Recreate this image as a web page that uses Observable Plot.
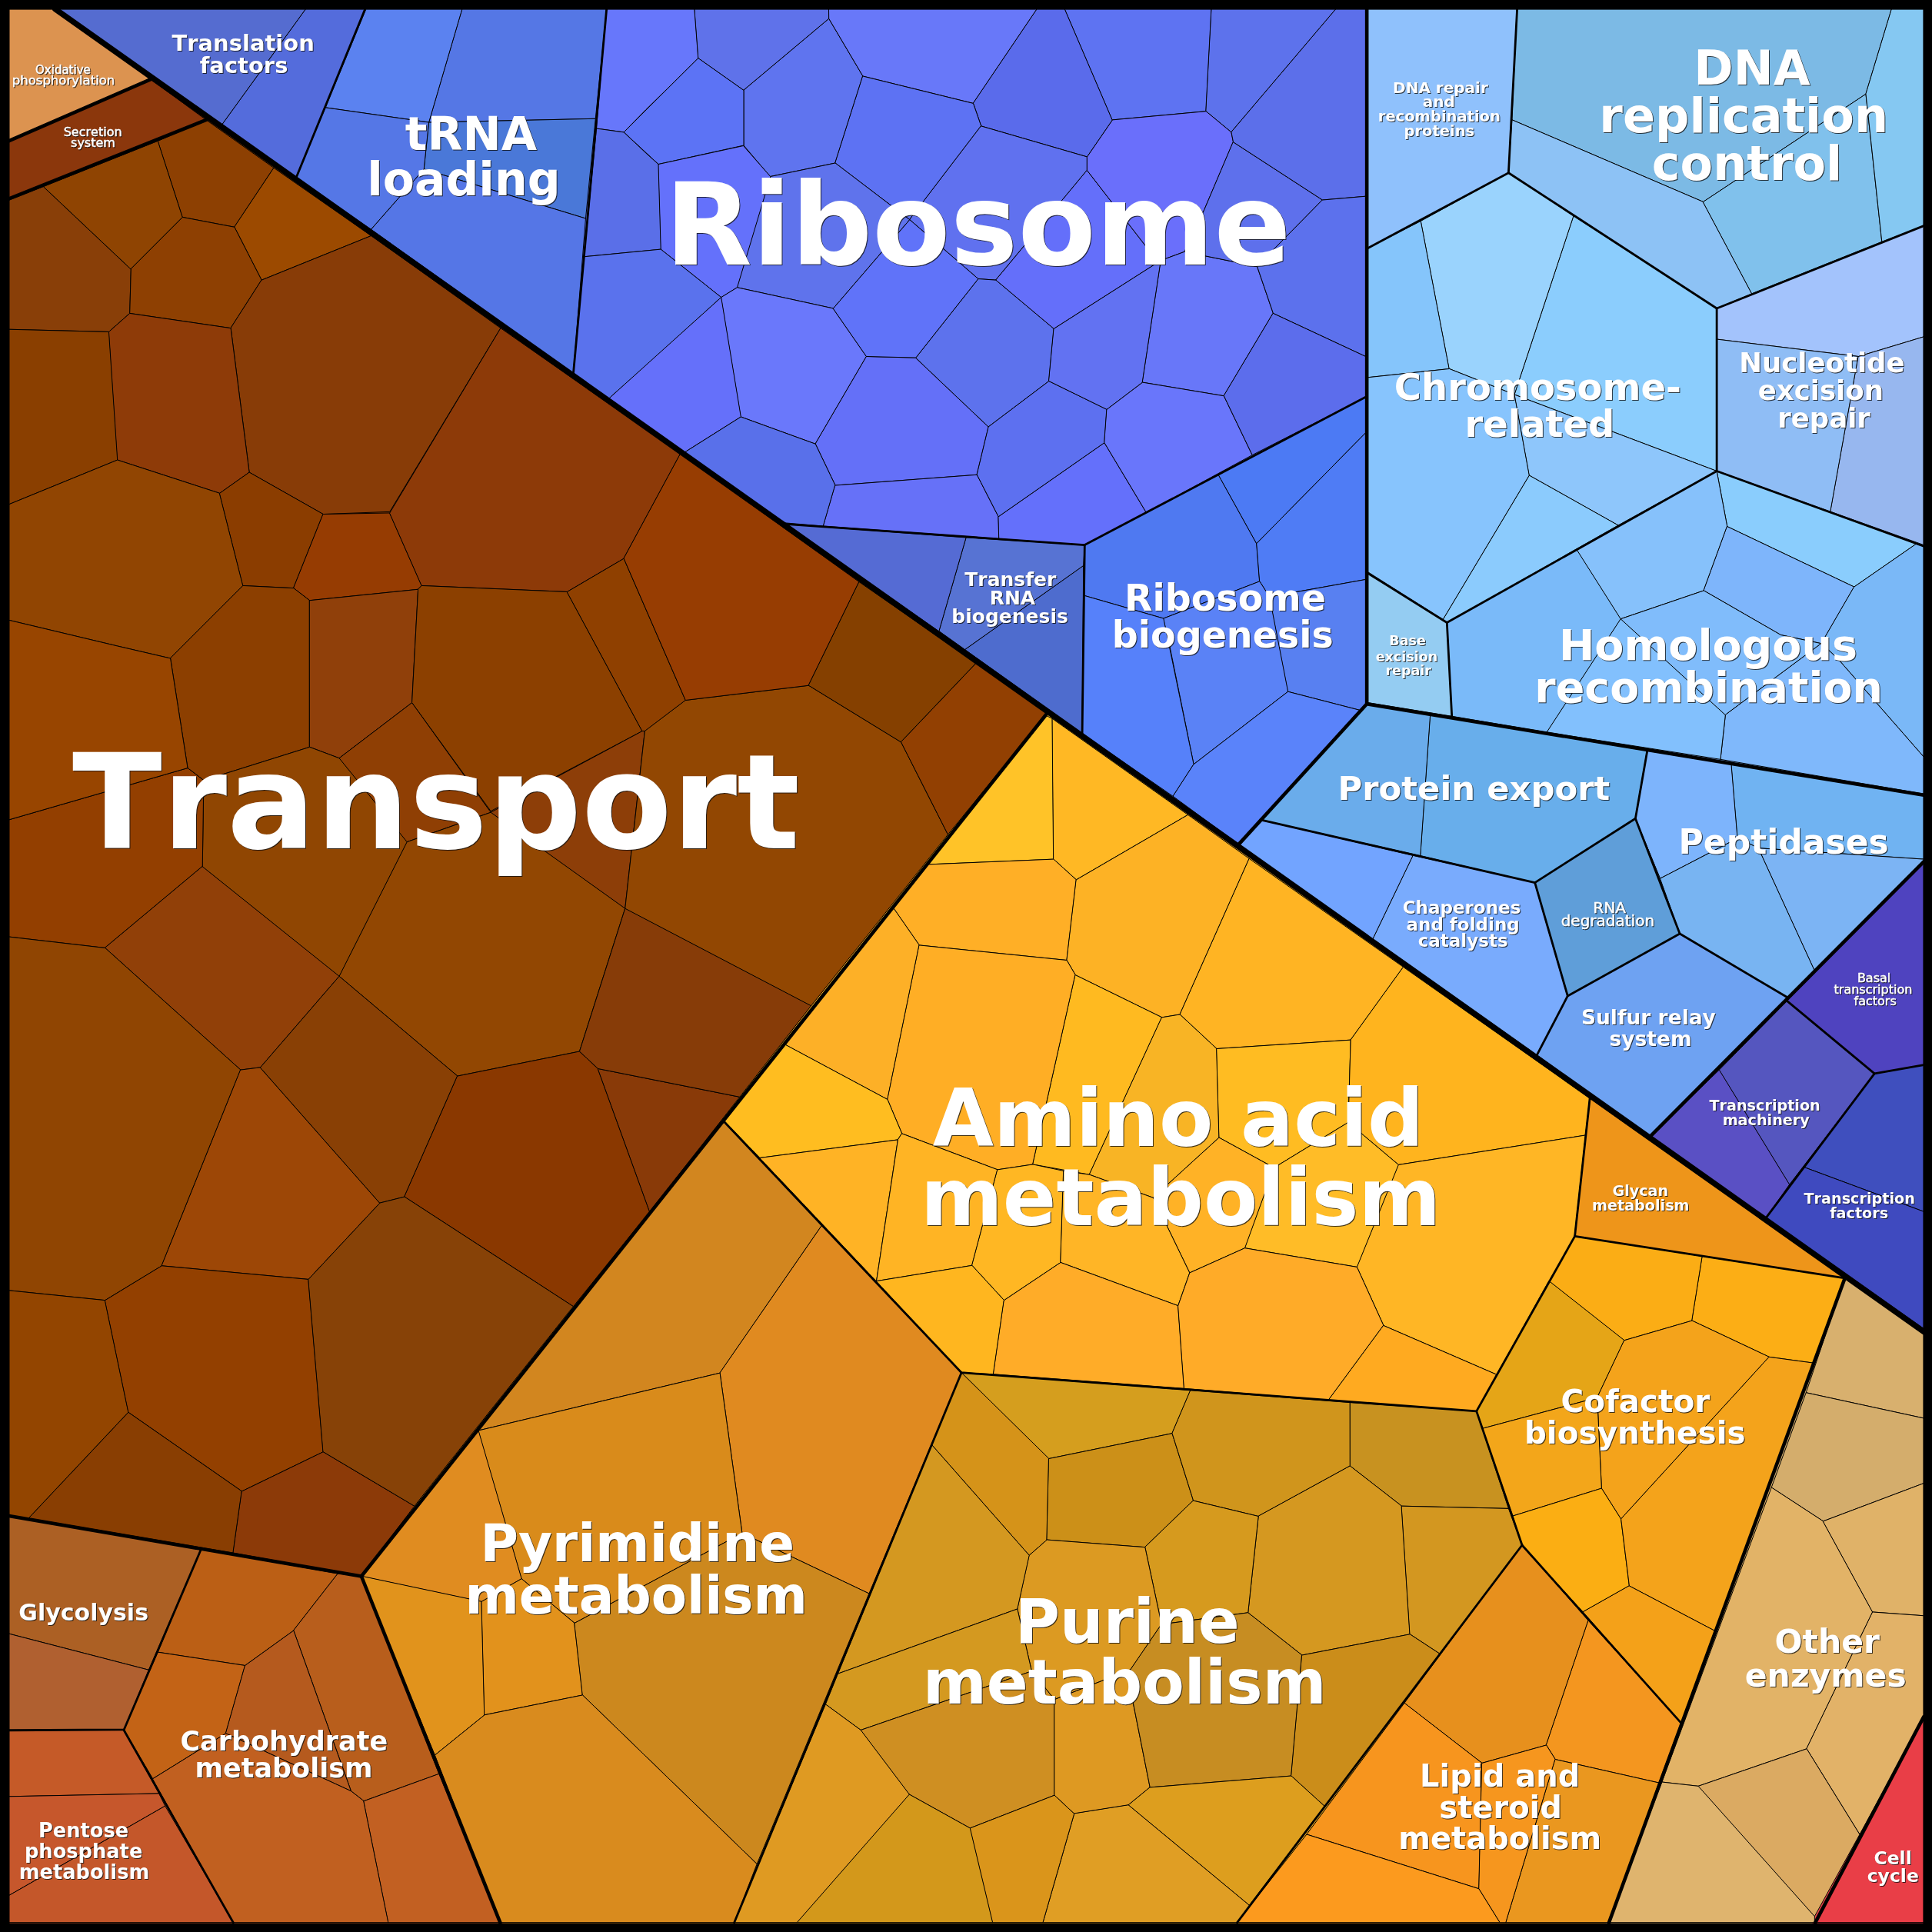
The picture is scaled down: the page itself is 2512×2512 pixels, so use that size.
<!DOCTYPE html>
<html><head><meta charset="utf-8">
<script src="https://cdn.jsdelivr.net/npm/d3@7"></script>
<script src="https://cdn.jsdelivr.net/npm/@observablehq/plot@0.6"></script>
<style>html,body{margin:0;padding:0;background:#fff}svg{display:block}
svg text{font-kerning:none}
svg g[aria-label="text"]{filter:drop-shadow(1.6px 1.6px 0 rgba(17,17,17,.8))}</style>
</head><body>
<script>
// Cell outlines, as flat x,y lists in a 0–1568 picture unit.
const transportPolys = [
[7,162,35,151,106,218,105,254,88,269,7,267],[35,151,128,114,148,176,106,218],[128,114,167,97,222,136,190,184,148,176],[222,136,301,191,212,227,190,184],
[148,176,190,184,212,227,187,266,105,254,106,218],[212,227,301,191,406,266,316,415,262,417,202,383,187,266],[88,269,105,254,187,266,202,383,178,400,95,373],[7,267,88,269,95,373,7,409],
[7,409,95,373,178,400,197,475,138,534,95,524,7,503],[178,400,202,383,262,417,238,477,197,475],[262,417,316,416,342,475,339,478,251,487,238,477],[316,416,406,266,552,368,506,453,460,480,342,475],
[197,475,238,477,251,487,251,606,165,633,152,623,138,534],[251,487,339,478,334,570,275,615,251,606],[342,475,460,480,521,593,398,658,334,570,339,478],[275,615,334,570,398,659,330,683],
[398,659,521,593,523,593,507,737],[330,683,398,659,507,737,470,853,371,873,275,792],[164,703,165,633,251,606,275,615,330,683,275,792],[7,665,152,623,165,633,164,703,85,769,7,760],
[7,503,95,524,138,534,152,623,7,665],[164,703,275,792,211,866,195,868,85,769],[7,760,85,769,195,868,131,1027,85,1055,7,1047],[195,868,211,866,308,976,250,1038,131,1027],
[211,866,275,792,371,873,328,971,308,976],[371,873,470,853,485,867,527,983,465,1060,328,971],[485,867,600,890,527,983],[507,737,470,853,485,867,600,890,658,816],
[556,568,656,556,731,602,769,677,658,816,507,737,523,593],[460,480,506,453,556,568,523,593,521,593],[552,368,697,472,656,556,556,568,506,453],[697,472,792,538,731,602,656,556],
[792,538,850,578,769,677,731,602],[7,1047,85,1055,104,1146,23,1232,7,1230],[85,1055,131,1027,250,1038,262,1178,196,1210,104,1146],[104,1146,196,1210,189,1260,23,1232],
[196,1210,262,1178,336,1222,293,1279,189,1260],[250,1038,308,976,328,971,465,1060,336,1222,262,1178]];
const transportFills = ["#893f08","#8f4402","#8d4002","#9c4a00","#8e4002","#883c07","#8e3b08","#8a3f00","#914502","#8b3d00","#963c02","#8d3a08","#8c3f00","#90400a","#8c4000","#8f3f04","#8d3e08","#924702","#904602","#933f00","#984500","#914008","#904502","#9d4706","#894005","#8a3800","#893a08","#873c08","#924702","#8f4000","#973d02","#854000","#924002","#934500","#934000","#893e02","#8c3a08","#874207"];

const translationPolys = [[42,7,248,7,180,101],[248,7,296,7,240,144,180,101]];
const translationFills = ["#556cd0","#546cdc"];
const trnaPolys = [[297,7,375,7,348,99,264,87],[375,7,492,7,483,96,348,99],[264,87,348,99,344,137,301,186,240,144],[348,99,483,96,475,177,344,137],[344,137,475,177,465,303,301,186]];
const trnaFills = ["#5b82f0","#5577e5","#5577e6","#4a78d8","#5576e6"];

const ribosomePolys = [
[492,7,563.5,7,566.5,47,524,88.6,506,107,484,104],[563.5,7,672.5,7,672.5,15,603.3,73,566.5,47],[672.5,15,700,61.5,677.6,132,624.7,143,603.3,117.7,603.3,73],[672.5,7,841.4,7,789.6,83.6,700,61.5,672.5,15],
[841.4,7,864,7,902.6,97,882,127,796,102,789.6,83.6],[864,7,983,7,978.5,90,902.6,97],[983,7,1084,7,999,107,978.5,90],[566.5,47,603.3,73,603.3,117.7,534,133,524.4,124,506,107,524.4,88.6],
[700,61.5,789.6,83.6,796,102,738,178,677.6,132],[796,102,882,127,882,138,808,227,793.6,226,738,178],[624.7,143,677.6,132,738,178,676,250,598,233],[534,133,603,118,625,143,598,233,585,241,536,202],
[484,104,506,107,524,124,534,133,536,202,474,208],[474,208,536,202,585,241,524.4,296,494,323,465,303],[585,241,598,233,676,250,703,289,661.5,360,601,338],[494,323,585,241,601,338,555,367],
[703,289,743,290,802,346,792.6,385,677.6,393.6,661.5,360],[555,367,601,338,661.5,360,677.6,393.6,668,426.7,636,424],[677.6,393.6,792.6,385,810,419,810.6,437,668,426.7],[810,419,896,359,930,415.7,880,442,810.6,437],
[743,290,793.6,226,808,227,855,266.5,851,309,802,346],[676,250,738,178,793.6,226,743,290,703,289],[802,346,851,309,898,332,896,359,810,419,792.6,385],[882,138,930,200,942,211,855,266.5,808,227],
[882,127,902.6,97,978.5,90,999,107,1000.6,115,977,170,961,204,942,211,930,200,882,138],[855,266.5,942,211,927,310,898,332,851,309],[942,211,961,204,1020,216,1033,254,993,321,927,310],[898,332,927,310,993,321,1016,369,930,415.7,896,359],
[1000.6,115,1073,162,1020,216,961,204,977,170],[1084,7,1108,7,1108,159,1073,162,1000.6,115,999,107],[1073,162,1108,159,1108,289,1033,254,1020,216],[1033,254,1108,289,1108,322,1016,369,993,321]];
const ribosomeFills = ["#6777fb","#5f72ea","#5f74ef","#6878f9","#5a6beb","#5e73f2","#5d72ec","#5c73f5","#5d72f3","#6071ef","#5f73ec","#6471fb","#5a6fe8","#5a72ed","#6a78fb","#6570fa","#6470f8","#5970ea","#6671f8","#6470fb","#5d72ed","#6073f9","#5d70f0","#646ffa","#6a6ffb","#6272f2","#6877f9","#6976fb","#5e70ec","#5c6fea","#5c71ed","#5c6dec"];

const transferPolys = [[637,425,784,436,762,512],[784,436,880,442,879,459,783,527,762,512],[879,459,878,595,783,527]];
const transferFills = ["#556bd4","#5773d3","#4e6cce"];
const biogenesisPolys = [[880,442,988.5,384.6,1019.6,440.7,1022,471.5,944,501.6,879.5,483],[988.5,384.6,1108,322,1108,351,1019.6,440.7],[1019.6,440.7,1108,351,1108,470,1030,484,1022,471.5],[1030,484,1108,470,1109,571,1103,576,1045,561],[944,501.6,1022,471.5,1030,484,1045,561,968.5,620,949,524],[879.5,483,944,501.6,968.5,620,951.8,646,878,595],[968.5,620,1045,561,1103,576,1005,685,951.8,646]];
const biogenesisFills = ["#4f79f1","#4c7af4","#4f7cf5","#5880f1","#5a82f6","#5681fa","#5a83fa"];

const dnaPolys = [[1110,7,1231,7,1224,140,1110,201],[1231,7,1535,7,1514,76,1382,163.5,1227,97],[1227,97,1382,163.5,1421.6,238,1393,250,1224,140],[1382,163.5,1514,76,1527,196,1421.6,238],[1535,7,1561,7,1561,183,1527,196,1514,76]];
const dnaFills = ["#8fc1fc","#7cbae5","#8dc2f5","#80c1ec","#85c8f2"];
const chromosomePolys = [[1110,201,1153,179,1176,299,1110,306],[1153,179,1224,140,1277,175,1229,320,1176,299],[1277,175,1393,250,1393,382,1229,320],[1110,306,1176,299,1229,320,1241,385.6,1171,502.6,1110,464],[1229,320,1393,382,1313,426,1241,385.6],[1241,385.6,1313,426,1174,505,1171,502.6]];
const chromosomeFills = ["#85c5fb","#9ad3fd","#8bcdfd","#87c4fd","#8ec6fb","#8bcbfd"];
const nucleotidePolys = [[1393,250,1561,183,1561,273,1508,289,1393,275],[1393,275,1508,289,1485.4,415,1393,382],[1508,289,1561,273,1561,442,1485.4,415]];
const nucleotideFills = ["#a3c3fc","#8fbdf5","#97b7ef"];
const homologousPolys = [[1393,382,1401.5,427,1504.5,476,1555,441],[1279.5,446,1393,382,1401.5,427,1382.5,479,1315,502],[1401.5,427,1504.5,476,1478,522,1445,515,1382.5,479],[1315,502,1382.5,479,1445,515,1478,522,1400,580],[1504.5,476,1555,441,1561,443,1561,614,1491,534,1478,522],[1478,522,1491,534,1561,614,1561,644,1396,616,1400,580],[1315,502,1400,580,1396,616,1255,594],[1174,505,1279.5,446,1315,502,1255,594,1178,581]];
const homologousFills = ["#8acdfd","#86c1fb","#7eb5fb","#80bcfb","#7ab8f7","#7fb8fb","#82c0fd","#7abaf9"];
const basePolys = [[1110,465,1174,505,1178,581,1110,570]];
const baseFills = ["#94ccf2"];
const exportPolys = [[1109.6,571,1160.7,580,1152.7,694.3,1022.6,665],[1160.7,580,1336.6,609,1327,664,1245.4,716,1152.7,694.3]];
const exportFills = ["#6aaceb","#68aeeb"];
const peptidasePolys = [[1336.6,609,1405,620,1410,680,1347,712.7,1327,664],[1405,620,1561,645,1561,697,1427,688,1410,680],[1347,712.7,1410,680,1427,688,1472.4,787,1450,809,1363,757.5],[1427,688,1561,697,1561,699,1472.4,787]];
const peptidaseFills = ["#7db4fc","#70b3f2","#78b4f2","#7cb4f4"];
const chaperonePolys = [[1022.6,665,1146.7,694,1114,762,1005,685],[1146.7,694,1245.4,716,1272,808,1247,856,1114,762]];
const chaperoneFills = ["#72a4ff","#79abfd"];
const relayPolys = [[1245.4,716,1327,664,1347,712.7,1363,757.5,1272,808],[1272,808,1363,757.5,1450,809,1339,922,1247,856]];
const relayFills = ["#5f9ed9","#6ea2f2"];
const transcriptionPolys = [[1450,812,1561,699,1561,864,1521,871],[1395,868,1450,812,1521,871,1452,961],[1339,922,1395,868,1452,961,1433,988],[1521,871,1561,864,1561,983,1464,947],[1464,947,1561,983,1561,1078,1433,988]];
const transcriptionFills = ["#4f43bf","#5556bf","#5a50c4","#3f4fbe","#3f4abf"];

const aminoPolys = [
[848,580,853.8,583,854.8,697,751.8,701.3],[853.8,583,963.8,661,873.2,713.7,854.8,697],[751.8,701.3,854.8,697,873.2,713.7,865.5,779,745.8,766.8,724.4,736],[873.2,713.7,963.8,661,1013.6,696.6,957.4,823,942.7,825.4,872.5,791,865.5,779],
[724.4,736,745.8,766.8,720,892,636.8,847.4],[745.8,766.8,865.5,779,872.5,791,838,944.7,809.3,949,731.7,919.7,720,892],[872.5,791,942.7,825.4,883.9,953,838,944.7],[942.7,825.4,957.4,823,987.2,850.8,989.2,923,935.7,971.8,883.9,953],
[1013.6,696.6,1138.7,784.6,1095.9,843.7,987.2,850.8,957.4,823],[987.2,850.8,1095.9,843.7,1093.9,910.6,1033.7,947.4,989.2,923],[1138.7,784.6,1290,891,1286.5,921,1134.7,945,1093.9,910.6,1095.9,843.7],[1134.7,945,1286.5,921,1277.8,1003,1216,1116,1122.6,1075.5,1101,1028],
[1033.7,947.4,1093.9,910.6,1134.7,945,1101,1028,1010,1012.6],[989.2,923,1033.7,947.4,1010,1012.6,965.2,1032.7,935.7,971.8],[636.8,847.4,720,892,731.7,919.7,728.4,924.7,616.4,939.4,587,909],[616.4,939.4,728.4,924.7,711,1039.4],
[731.7,919.7,809.3,949,788.6,1026.7,711,1039.4,728.4,924.7],[809.3,949,838,944.7,863,950,860.5,1024.3,814.6,1055,788.6,1026.7],[863,950,883.9,953,935.7,971.8,965.2,1032.7,955.8,1059.4,860.5,1024.3],[711,1039.4,788.6,1026.7,814.6,1055,806,1115,780,1113.7],
[814.6,1055,860.5,1024.3,955.8,1059.4,960.8,1126.6,806,1115],[955.8,1059.4,965.2,1032.7,1010,1012.6,1101,1028,1122.6,1075.5,1078,1136,960.8,1126.6],[1122.6,1075.5,1216,1116,1198,1145,1078,1136]];
const aminoFills = ["#ffc328","#ffb824","#ffaf26","#fdb225","#fdb027","#ffae25","#ffba20","#f8b425","#ffb423","#ffbc22","#ffb41e","#ffb625","#ffbc27","#ffb226","#ffbd20","#ffb325","#ffb424","#ffb723","#ffb526","#ffb61f","#ffac28","#ffab28","#ffaa20"];
const glycanPolys = [[1290,891,1497,1037,1277.8,1003]];
const glycanFills = ["#ee951a"];
const cofactorPolys = [[1257,1039.4,1277.8,1003,1381.4,1019.3,1373,1071.5,1318,1087.5],[1381.4,1019.3,1497,1037,1472.4,1106,1435.6,1101,1373,1071.5],[1257,1039.4,1318,1087.5,1296,1134,1203,1159,1198,1145],[1318,1087.5,1373,1071.5,1435.6,1101,1315.3,1232.6,1299.5,1207.6,1296,1134],[1203,1159,1296,1134,1299.5,1207.6,1227.6,1230],[1227.6,1230,1299.5,1207.6,1315.3,1232.6,1322,1286.8,1284.5,1308,1235,1253.7],[1435.6,1101,1472.4,1106,1391.5,1323.3,1322,1286.8,1315.3,1232.6],[1322,1286.8,1391.5,1323.3,1364,1398,1284.5,1308]];
const cofactorFills = ["#fbad15","#fcae15","#e5a517","#f4a31b","#f3a61a","#fbae13","#f4a31b","#f4a119"];
const lipidPolys = [[1235,1253.7,1288.8,1315,1254.7,1416,1202.5,1430.6,1139.7,1382],[1288.8,1315,1364,1398,1346,1446.6,1262,1427.6,1254.7,1416],[1139.7,1382,1202.5,1430.6,1200,1532.6,1060.4,1488.5],[1060.4,1488.5,1200,1532.6,1217,1560,1003.8,1560],[1202.5,1430.6,1254.7,1416,1262,1427.6,1222,1560,1217,1560,1200,1532.6],[1262,1427.6,1346,1446.6,1305.5,1560,1222,1560]];
const lipidFills = ["#e7901d","#f4961f","#f7951e","#fc9a1e","#f6961e","#ea971f"];
const purinePolys = [
[780,1113.7,966,1128,951,1163,851,1183.5],[780,1113.7,851,1183.5,849.4,1249.4,835,1262,756,1172.4],[851,1183.5,951,1163,968.2,1217.6,929,1255.4,849.4,1249.4],[966,1128,1095.5,1138,1095.5,1189.5,1021,1230.3,968.2,1217.6,951,1163],
[1095.5,1138,1198,1145,1224,1224,1137.3,1222,1095.5,1189.5],[1095.5,1189.5,1137.3,1222,1144,1326,1056.4,1343,1012.6,1308.5,1021,1230.3],[1137.3,1222,1224,1224,1235,1253.7,1168.4,1342,1144,1326],[968.2,1217.6,1021,1230.3,1012.6,1308.5,942.4,1318,929,1255.4],
[835,1262,849.4,1249.4,929,1255.4,942.4,1318,917.3,1354.7,855.5,1379,837,1356,825.4,1305.5],[756,1172.4,835,1262,825.4,1305.5,679.9,1358],[679.9,1358,825.4,1305.5,837,1356,698.3,1403.8,669.9,1383],[698.3,1403.8,837,1356,855.5,1379,855.5,1456.7,787,1483.4,737.7,1456],
[855.5,1379,917.3,1354.7,919,1380,933,1450.3,915.6,1464.7,871.5,1471.7,855.5,1456.7],[942.4,1318,1012.6,1308.5,1056.4,1343,1047.7,1441,933,1450.3,919,1380,917.3,1354.7],[1056.4,1343,1144,1326,1168.4,1342,1074.8,1465.7,1047.7,1441],[933,1450.3,1047.7,1441,1074.8,1465.7,1013.6,1546,915.6,1464.7],
[915.6,1464.7,1013.6,1546,1003.8,1560,846.1,1560,871.5,1471.7],[787,1483.4,855.5,1456.7,871.5,1471.7,846.1,1560,805.3,1560],[737.7,1456,787,1483.4,805.3,1560,646.5,1560],[669.9,1383,698.3,1403.8,737.7,1456,646.5,1560,595.6,1560]];
const purineFills = ["#d59e1e","#d59319","#cc9018","#d0951c","#c89220","#d59820","#d39720","#d69a1e","#dc9a22","#d49820","#d49920","#cf8f22","#de9922","#c78d22","#cb8d1a","#dd9e1e","#e09e24","#da951b","#d3981b","#df9a22"];
const pyrimidinePolys = [[587,909.6,667,994,584,1114,388,1160.7],[667,994,780,1113.7,705,1293,602,1244,584,1114],[388,1160.7,584,1114,602,1244,466,1317,423,1281],[293,1278.8,388,1160.7,423,1281,390.6,1299.5],[293,1278.8,390.6,1299.5,393,1391.5,352.8,1424],[390.6,1299.5,423,1281,466,1317,472.5,1375.4,393,1391.5],[466,1317,602,1244,705,1293,614,1512.5,472.5,1375.4],[352.8,1424,393,1391.5,472.5,1375.4,614,1512.5,595.6,1560,405.6,1560]];
const pyrimidineFills = ["#d2861f","#e08a20","#d98b1b","#e08c20","#e1931c","#e2921c","#cc881e","#d98b1e"];

const carbohydratePolys = [[162.9,1257,274,1276.8,238,1323,198.6,1351.4,128,1340.6],[274,1276.8,293,1278.8,356,1439.3,295,1461.4,284.6,1453.3,238,1323],[128,1340.6,198.6,1351.4,183,1406.5,123.7,1443.3,100.3,1403.5],[198.6,1351.4,238,1323,284.6,1453.3,183,1406.5],[123.7,1443.3,183,1406.5,284.6,1453.3,295,1461.4,315,1560,189,1560],[295,1461.4,356,1439.3,405.6,1560,315,1560]];
const carbohydrateFills = ["#bb5f15","#b85e1c","#c36316","#b55a1e","#c16020","#c26022"];
const glycolysisPolys = [[7,1230,162.9,1257,120.4,1355,7,1325.6],[7,1325.6,120.4,1355,100.3,1403.5,7,1404]];
const glycolysisFills = ["#ac6024","#b06030"];
const pentosePolys = [[7,1404,100.3,1403.5,128.7,1455.3,7,1457.7],[7,1457.7,128.7,1455.3,133.7,1465.4,7,1538],[7,1538,133.7,1465.4,189,1560,7,1560]];
const pentoseFills = ["#c55a28","#c6572c","#c4572a"];
const otherPolys = [[1497,1037,1561,1078,1561,1150.7,1465.7,1130],[1465.7,1130,1561,1150.7,1561,1203.5,1479.4,1234.3,1437.6,1207],[1437.6,1207,1479.4,1234.3,1519.6,1308,1466,1419,1378,1449.3,1348.7,1446],[1479.4,1234.3,1561,1203.5,1561,1311,1519.6,1308],[1519.6,1308,1561,1311,1561,1393,1509,1488.5,1466,1419],[1378,1449.3,1466,1419,1509,1488.5,1472.4,1555],[1348.7,1446,1378,1449.3,1472.4,1555,1472.4,1560,1305.5,1560]];
const otherFills = ["#d8b06e","#d4ad6c","#e2b367","#e0b268","#e2b268","#dbaa62","#dfb46e"];
const singlePolys = [[7,7,42,7,122,64,7,114],[7,114,122,64,167,97,7,161],[1561,1393,1561,1560,1473,1560]];
const singleFills = ["#dc9350","#8b370c","#e93e47"];

// Borders between the groups (thin) and the larger divisions.
const groupEdges = [
[296,7,240,144],[492,7,465,303],[637,425,880,442,1108,322],[880,442,878,595],[1231,7,1224,140,1110,201],[1224,140,1393,250,1561,183],[1393,250,1393,382,1561,443],[1393,382,1174,505,1110,465],[1174,505,1178,581],
[1336.6,609,1327,664,1245.4,716,1022.6,665],[1245.4,716,1272,808,1247,856],[1327,664,1363,757.5,1272,808],[1363,757.5,1450,809],[1450,812,1521,871,1561,864],[1521,871,1433,988],
[1290,891,1277.8,1003,1198,1145,780,1113.7,587,909.6],[1277.8,1003,1497,1037],[1198,1145,1235,1253.7,1364,1398],[780,1113.7,595.6,1560],[1235,1253.7,1003.8,1560],[162.9,1257,100.3,1403.5,7,1404],[100.3,1404,189,1560]];
const divisionEdges = [[850,578,293,1279,405.6,1560],[7,1230,293,1279],[1497,1037,1305.5,1560],[1561,1393,1473,1560],[1109,7,1109,571,1005,685],[1109,571,1561,645],[1561,699,1339,922],[122,64,7,114],[167,97,7,161]];
const mainEdges = [[44.5,7,1561,1080.5]];

// Labels: one row per line of text.
const labelText = ["Oxidative","phosphorylation","Secretion","system","Basal","transcription","factors","RNA","degradation"];
const labelX = [50.8,51.2,75,75.2,1520.6,1519.9,1521.6,1305.9,1304.5];
const labelY = [59.5,68.2,110.4,119,797,806.3,815.7,740.4,751];
const labelSize = [15,16.5,16,16,16,16,16,20,20];

const boldText = ["Translation","factors","tRNA","loading","Ribosome","DNA repair","and","recombination","proteins","DNA","replication","control","Chromosome-","related","Nucleotide","excision","repair","Homologous","recombination","Transfer","RNA","biogenesis","Ribosome","biogenesis","Base","excision","repair","Protein export","Peptidases","Chaperones","and folding","catalysts","Sulfur relay","system","Transcription","machinery","Transcription","factors","Amino acid","metabolism","Glycan","metabolism","Cofactor","biosynthesis","Lipid and","steroid","metabolism","Other","enzymes","Cell","cycle","Purine","metabolism","Pyrimidine","metabolism","Glycolysis","Carbohydrate","metabolism","Pentose","phosphate","metabolism","Transport"];
const boldX = [197,197.6,382,376,793.4,1168.8,1167.4,1167.8,1167.8,1421.6,1414.9,1417.6,1247.7,1249.3,1478.4,1477.4,1480,1386,1386.5,819.8,821.4,819.3,994,992,1142,1141.3,1142.7,1195.9,1447.3,1186,1187,1187,1337.6,1339.2,1432,1433,1508.8,1508.5,956,958,1331,1331.3,1327,1326.6,1217,1217.6,1217,1482.6,1481.4,1535.9,1536,914.6,912.4,517,516,67.5,230.2,230,67.5,67.5,68,353.6];
const boldY = [41,59,121.4,158,214.7,75,86.6,98,110,68.6,107,145.8,324.4,354.5,302,324.4,346.8,535,569.5,475.5,490.6,505.6,495,525,523.4,536.4,547.8,648.8,692.6,741,754.8,768.2,831.4,848.8,901.3,913,976.5,988.2,929.7,994,970.2,981.9,1145.7,1171.4,1449.7,1475,1500,1341.3,1368.7,1512.5,1527,1333,1382.5,1267,1309.5,1314.6,1420.6,1442.3,1491,1507.8,1524.6,688];
const boldSize = [29,29,60,60,147.5,20,20,19.5,19.5,62,62,62,48,48,35.5,35.5,35.5,55.5,55.5,25,25,25,47.5,47.5,17.5,17.5,17.5,43.3,44,23,23,23,26.5,26.5,19.2,19.2,19.2,19.2,102.5,102.5,19.2,19.2,40.5,40.5,40,40,40,42.5,42.5,23.5,23.5,79.5,79.5,67.5,67.5,30,35,35,25.7,25.7,25.7,171];

const polySets = [
 [transportPolys,transportFills],[translationPolys,translationFills],[trnaPolys,trnaFills],[ribosomePolys,ribosomeFills],[transferPolys,transferFills],[biogenesisPolys,biogenesisFills],
 [dnaPolys,dnaFills],[chromosomePolys,chromosomeFills],[nucleotidePolys,nucleotideFills],[homologousPolys,homologousFills],[basePolys,baseFills],[exportPolys,exportFills],[peptidasePolys,peptidaseFills],[chaperonePolys,chaperoneFills],[relayPolys,relayFills],[transcriptionPolys,transcriptionFills],
 [aminoPolys,aminoFills],[glycanPolys,glycanFills],[cofactorPolys,cofactorFills],[lipidPolys,lipidFills],[purinePolys,purineFills],[pyrimidinePolys,pyrimidineFills],
 [carbohydratePolys,carbohydrateFills],[glycolysisPolys,glycolysisFills],[pentosePolys,pentoseFills],[otherPolys,otherFills],[singlePolys,singleFills]];

const cellRows = [];
let cellId = 0;
for (const [polys, fills] of polySets) polys.forEach((p, i) => {
  cellId++;
  for (let k = 0; k < p.length; k += 2) cellRows.push({x: p[k], y: p[k+1], id: cellId, fill: fills[i]});
});
const edgeRows = list => list.flatMap((p, i) => d3.range(0, p.length, 2).map(k => ({x: p[k], y: p[k+1], id: i})));
const rows = (t, x, y, s) => t.map((text, i) => ({text, x: x[i], y: y[i], size: s[i]}));
const thin = rows(labelText, labelX, labelY, labelSize);
const bold = rows(boldText, boldX, boldY, boldSize);
const font = "DejaVu Sans";
const chart = Plot.plot({
  width: 2512, height: 2512, margin: 0,
  x: {domain: [0, 1568], range: [0, 2512], axis: null},
  y: {domain: [0, 1568], range: [0, 2512], axis: null},
  color: {type: "identity"},
  style: {background: "transparent"},
  marks: [
    // A wider copy of each cell underneath closes the hairline gaps at the group borders.
    Plot.line(cellRows, {x: "x", y: "y", z: "id", fill: "fill", stroke: "fill", strokeWidth: 8, curve: "linear-closed"}),
    Plot.line(cellRows, {x: "x", y: "y", z: "id", fill: "fill", stroke: "#000", strokeWidth: 1, curve: "linear-closed"}),
    Plot.line(edgeRows(groupEdges), {x: "x", y: "y", z: "id", stroke: "#000", strokeWidth: 2.8}),
    Plot.line(edgeRows(divisionEdges), {x: "x", y: "y", z: "id", stroke: "#000", strokeWidth: 4.6}),
    Plot.line(edgeRows(mainEdges), {x: "x", y: "y", z: "id", stroke: "#000", strokeWidth: 7.5}),
    Plot.frame({stroke: "#000", strokeWidth: 24}),
    Plot.text(thin, {x: "x", y: "y", text: "text", fontSize: "size", fontFamily: font, fontWeight: "normal", textAnchor: "middle", lineAnchor: "bottom", fill: "#fff", stroke: "#fff", strokeWidth: 0.5}),
    Plot.text(bold, {x: "x", y: "y", text: "text", fontSize: "size", fontFamily: font, fontWeight: "bold", textAnchor: "middle", lineAnchor: "bottom", fill: "#fff"})
  ]
});
document.body.appendChild(chart);
</script>
</body></html>
